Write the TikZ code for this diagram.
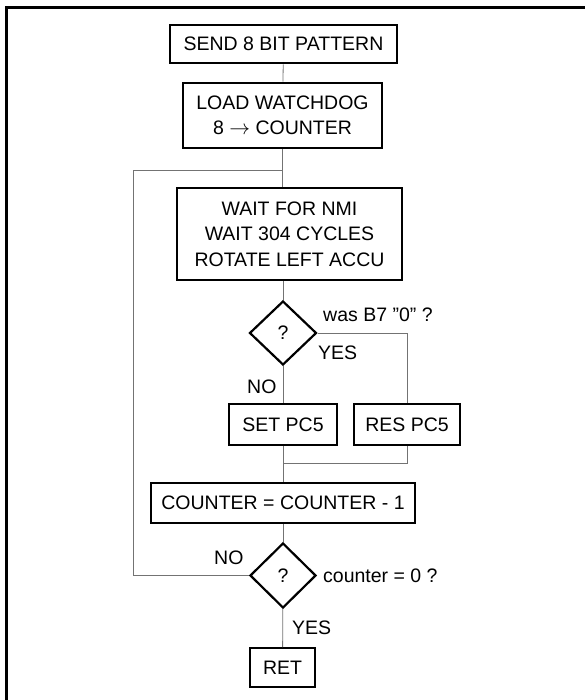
\documentclass[tikz,border=0pt]{standalone}
\usepackage{fontspec}
\setmainfont{Liberation Sans}
\usetikzlibrary{shapes.geometric}

\tikzset{
  box/.style={draw, line width=2.6pt, inner sep=0pt, align=center,
    font=\fontsize{19.5}{25.5}\selectfont},
  decision/.style={draw, diamond, line width=2.2pt, inner sep=0pt,
    font=\fontsize{19.5}{22}\selectfont},
  link/.style={draw=black!55, line width=0.8pt},
  tag/.style={inner sep=0pt, anchor=west, font=\fontsize{19.5}{22}\selectfont}
}

\begin{document}
\begin{tikzpicture}[x=1pt, y=-1pt]
  \useasboundingbox (0,0) rectangle (585,700);
  % frame
  \draw[line width=3pt] (6,720) -- (6,7.5) -- (600,7.5);

  % boxes
  \node[box, minimum width=227pt, minimum height=38pt] (send) at (283.5,44) {SEND 8 BIT PATTERN};
  \node[box, minimum width=199pt, minimum height=65pt] (load) at (282.5,115.5) {LOAD WATCHDOG\\ 8 $\rightarrow$ COUNTER};
  \node[box, minimum width=225pt, minimum height=92pt] (wait) at (289.5,234) {WAIT FOR NMI\\ WAIT 304 CYCLES\\ ROTATE LEFT ACCU};
  \node[box, minimum width=108pt, minimum height=41pt] (set) at (283,424.5) {SET PC5};
  \node[box, minimum width=106pt, minimum height=41pt] (res) at (407,424.5) {RES PC5};
  \node[box, minimum width=264pt, minimum height=40pt] (count) at (283,503) {COUNTER = COUNTER - 1};
  \node[box, line width=2pt, minimum width=65pt, minimum height=39pt] (ret) at (282.5,667.5) {RET};

  % decisions
  \node[decision, minimum width=67pt, minimum height=64pt] (bit) at (283,333) {?};
  \node[decision, minimum width=66pt, minimum height=65pt] (zero) at (283,575.5) {?};

  % labels
  \node[tag] (bitq) at (323,315) {was B7 ''0'' ?};
  \node[tag] (bityes) at (318,353) {YES};
  \node[tag] (bitno) at (247,387) {NO};
  \node[tag] (zerono) at (214,558) {NO};
  \node[tag] (zeroq) at (323,575.5) {counter = 0 ?};
  \node[tag] (zeroyes) at (292,628) {YES};

  % connectors
  \coordinate (loop) at (133,170);
  \coordinate (merge) at (283,463);
  \draw[link] (send) -- (load);
  \draw[link] (load) -- (load |- wait.north);
  \draw[link] (bit |- wait.south) -- (bit);
  \draw[link] (bit) -- (set);
  \draw[link] (bit.east) -| (res.north);
  \draw[link] (set) -- (count);
  \draw[link] (res.south) |- (merge);
  \draw[link] (count) -- (zero);
  \draw[link] (zero) -- (ret);
  \draw[link] (zero.west) -| (loop) -- (loop -| load.south);
\end{tikzpicture}
\end{document}
